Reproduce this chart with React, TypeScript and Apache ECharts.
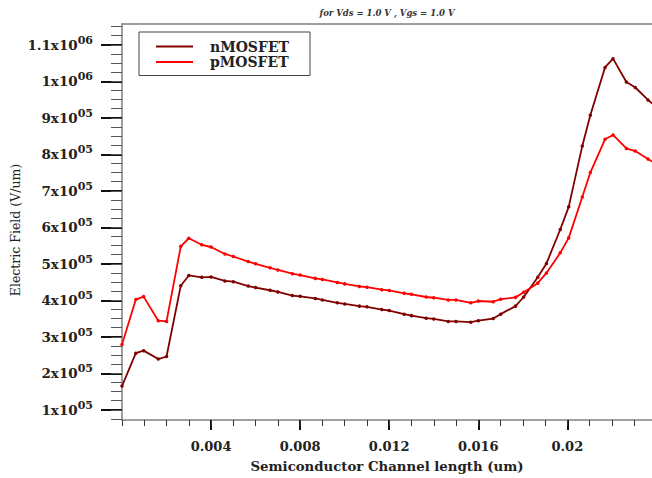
import React, { useEffect, useRef } from "react";
import * as echarts from "echarts";

const titleText = "for Vds = 1.0 V , Vgs = 1.0 V";
const xName = "Semiconductor Channel length (um)";
const yName = "Electric Field (V/um)";
const seriesNames = ["nMOSFET", "pMOSFET"];

const channelX = [
  0, 0.00062, 0.00097, 0.00163, 0.002, 0.00264, 0.003, 0.00358, 0.004, 0.00462,
  0.005, 0.00567, 0.006, 0.00665, 0.007, 0.00765, 0.008, 0.00868, 0.009, 0.00967,
  0.01, 0.01066, 0.011, 0.01167, 0.012, 0.01267, 0.013, 0.01366, 0.014, 0.01465,
  0.015, 0.01566, 0.016, 0.01667, 0.017, 0.01767, 0.01804, 0.01867, 0.01906, 0.01968,
  0.02006, 0.02067, 0.02103, 0.02169, 0.02205, 0.02265, 0.02305, 0.02362, 0.024,
];

const nMOSFET = [
  165000, 255000, 262000, 239000, 246000, 440000, 468000, 463000, 464000, 453000,
  451000, 439000, 435000, 427500, 423000, 413000, 411000, 405000, 401000, 393000,
  390000, 384000, 382000, 374500, 372000, 362000, 358000, 351000, 349000, 342000,
  342000, 340000, 344000, 350000, 362000, 384000, 409000, 463000, 501000, 594000,
  656000, 823000, 907000, 1038000, 1062000, 998000, 983000, 949000, 931000,
];

const pMOSFET = [
  279000, 402000, 410000, 344000, 342000, 548000, 570000, 552000, 546000, 527000,
  520000, 506000, 500000, 489000, 483000, 473000, 469000, 460000, 457000, 449000,
  445000, 438000, 436000, 429000, 427000, 419000, 416500, 409000, 407000, 401000,
  401000, 393000, 398000, 396000, 403000, 408000, 422000, 447000, 475000, 530000,
  571000, 683000, 750000, 841000, 853000, 816000, 809000, 787000, 773000,
];

const xMajorTicks = [0.004, 0.008, 0.012, 0.016, 0.02];
const yMajorTicks = [100000, 200000, 300000, 400000, 500000, 600000, 700000, 800000, 900000, 1000000, 1100000];

const X_MIN = 0;
const X_MAX = 0.0238;
const Y_MIN = 72000;
const Y_MAX = 1157000;

const FONT = "DejaVu Serif";

export default function App() {
  const ref = useRef<HTMLDivElement>(null);
  useEffect(() => {
    if (!ref.current) return;
    const chart = echarts.init(ref.current, null, { renderer: "svg" });
    const yMinorTicks: number[] = [];
    for (let v = 75000; v <= Y_MAX; v += 25000) yMinorTicks.push(v);

    const fmtY = (v: number) => {
      const big = v >= 1000000;
      const m = Math.round((big ? v / 1000000 : v / 100000) * 10) / 10;
      return `{b|${m}x10}{s|${big ? "06" : "05"}}`;
    };

    const option: any = {
      animation: false,
      backgroundColor: "#ffffff",
      grid: { left: 122, top: 24, right: 0, bottom: 58, containLabel: false, outerBoundsMode: "none" },
      graphic: [
        {
          type: "text",
          x: 387,
          y: 13,
          style: {
            text: titleText,
            align: "center",
            verticalAlign: "middle",
            font: `italic bold 8.5px "${FONT}"`,
            fill: "#333",
          },
        },
        {
          type: "text",
          x: 15,
          y: 230,
          rotation: Math.PI / 2,
          style: {
            text: yName,
            align: "center",
            verticalAlign: "middle",
            font: `12.5px "${FONT}"`,
            fill: "#222",
          },
        },
      ],
      legend: {
        data: [
          { name: seriesNames[0], icon: "rect", itemStyle: { color: "#800000" } },
          { name: seriesNames[1], icon: "rect", itemStyle: { color: "#ff0000" } },
        ],
        orient: "vertical",
        left: 139,
        top: 32,
        padding: [7, 21, 6, 17],
        itemGap: 0.5,
        itemWidth: 37,
        itemHeight: 2,
        borderColor: "#444",
        borderWidth: 1,
        borderRadius: 0,
        textStyle: {
          fontFamily: FONT,
          fontWeight: "bold",
          fontSize: 14,
          lineHeight: 15,
          color: "#222",
          padding: [0, 0, 0, 12],
        },
      },
      xAxis: [
        {
          type: "value",
          position: "bottom",
          min: X_MIN,
          max: X_MAX,
          name: xName,
          nameLocation: "middle",
          nameGap: 40,
          nameTextStyle: { fontFamily: FONT, fontWeight: "bold", fontSize: 13.3, color: "#222" },
          axisLine: { show: true, lineStyle: { color: "#808080", width: 1.5 } },
          axisTick: { show: true, customValues: xMajorTicks, length: 10, lineStyle: { color: "#111", width: 2 } },
          axisLabel: {
            show: true,
            customValues: xMajorTicks,
            formatter: (v: number) => String(v),
            margin: 20,
            fontFamily: FONT,
            fontWeight: "bold",
            fontSize: 13,
            color: "#222",
          },
          splitLine: { show: false },
        },
        {
          type: "value",
          position: "bottom",
          min: X_MIN,
          max: X_MAX,
          interval: 0.001,
          axisLine: { show: false },
          axisTick: { show: true, length: 6, lineStyle: { color: "#333", width: 1 } },
          axisLabel: { show: false },
          splitLine: { show: false },
        },
        {
          type: "value",
          position: "top",
          min: X_MIN,
          max: X_MAX,
          axisLine: { show: true, lineStyle: { color: "#808080", width: 1.5 } },
          axisTick: { show: false },
          axisLabel: { show: false },
          splitLine: { show: false },
        },
      ],
      yAxis: [
        {
          type: "value",
          position: "left",
          min: Y_MIN,
          max: Y_MAX,
          axisLine: { show: true, lineStyle: { color: "#808080", width: 1.5 } },
          axisTick: { show: true, customValues: yMajorTicks, length: 21, lineStyle: { color: "#111", width: 2 } },
          axisLabel: {
            show: true,
            customValues: yMajorTicks,
            formatter: fmtY,
            margin: 29,
            rich: {
              b: {
                fontFamily: FONT,
                fontWeight: "bold",
                fontSize: 13.5,
                color: "#222",
                lineHeight: 14,
              },
              s: {
                fontFamily: FONT,
                fontWeight: "bold",
                fontSize: 11,
                color: "#222",
                lineHeight: 11,
                padding: [0, 0, 9, 0],
              },
            },
          },
          splitLine: { show: false },
        },
        {
          type: "value",
          position: "left",
          min: Y_MIN,
          max: Y_MAX,
          axisLine: { show: false },
          axisTick: { show: true, customValues: yMinorTicks, length: 11, lineStyle: { color: "#555", width: 1 } },
          axisLabel: { show: false },
          splitLine: { show: false },
        },
      ],
      series: [
        {
          name: seriesNames[0],
          type: "line",
          xAxisIndex: 0,
          yAxisIndex: 0,
          data: channelX.map((x, i) => [x, nMOSFET[i]]),
          symbol: "circle",
          symbolSize: 3.5,
          showSymbol: true,
          lineStyle: { color: "#800000", width: 1.8 },
          itemStyle: { color: "#800000" },
          clip: true,
        },
        {
          name: seriesNames[1],
          type: "line",
          xAxisIndex: 0,
          yAxisIndex: 0,
          data: channelX.map((x, i) => [x, pMOSFET[i]]),
          symbol: "circle",
          symbolSize: 3.5,
          showSymbol: true,
          lineStyle: { color: "#ff0000", width: 1.8 },
          itemStyle: { color: "#ff0000" },
          clip: true,
        },
      ],
    };
    chart.setOption(option);
    return () => chart.dispose();
  }, []);
  return (
    <div
      ref={ref}
      style={{ position: "absolute", left: 0, top: 0, width: 652, height: 478, background: "#fff" }}
    />
  );
}
